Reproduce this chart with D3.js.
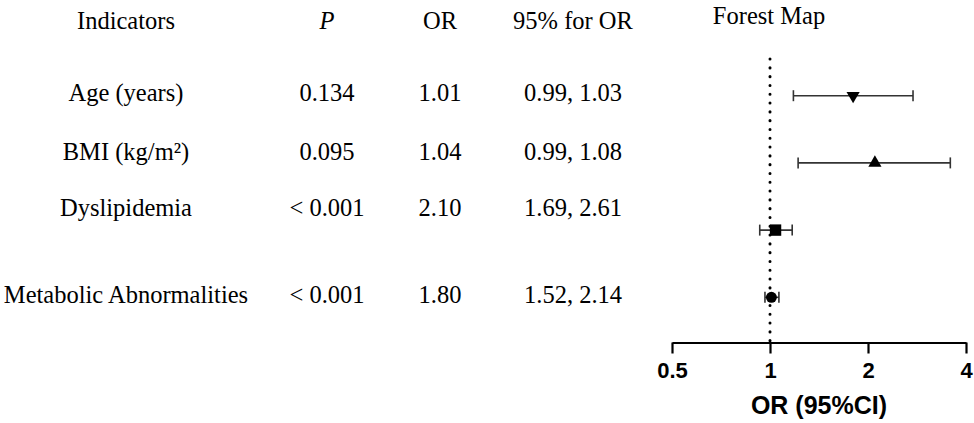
<!DOCTYPE html>
<html><head><meta charset="utf-8">
<script src="https://cdn.jsdelivr.net/npm/d3@7"></script>
<style>
html,body{margin:0;padding:0;background:#fff;}
svg{display:block;}
</style></head>
<body>
<svg id="chart" width="974" height="423"></svg>
<script>
// ---- data ----
const indicators = ["Age (years)", "BMI (kg/m²)", "Dyslipidemia", "Metabolic Abnormalities"];
const pValues = ["0.134", "0.095", "< 0.001", "< 0.001"];
const orText = ["1.01", "1.04", "2.10", "1.80"];
const ciText = ["0.99, 1.03", "0.99, 1.08", "1.69, 2.61", "1.52, 2.14"];
// values as drawn in the forest map
const plotOR = [1.80, 2.10, 1.04, 1.01];
const plotLow = [1.18, 1.22, 0.93, 0.965];
const plotHigh = [2.75, 3.58, 1.17, 1.065];
const markers = ["triangleDown", "triangleUp", "square", "circle"];
const xTicks = [0.5, 1, 2, 4];
const headers = ["Indicators", "P", "OR", "95% for OR"];

// ---- layout ----
const svg = d3.select("#chart");
const serif = "'Liberation Serif','Times New Roman',serif";
const sans = "'Liberation Sans',Arial,sans-serif";
const fs = 24.5;
const colX = [126, 327, 440, 573];
const textRowY = [92, 151, 207.5, 294];
const headerY = 20;

// table headers
svg.selectAll("text.hdr").data(headers).join("text")
  .attr("class", "hdr")
  .attr("x", (d, i) => colX[i]).attr("y", headerY)
  .attr("text-anchor", "middle").attr("dominant-baseline", "central")
  .attr("font-family", serif).attr("font-size", fs)
  .attr("font-style", (d, i) => i === 1 ? "italic" : "normal")
  .attr("fill", "#000").text(d => d);

// table body
const cols = [indicators, pValues, orText, ciText];
cols.forEach((col, ci) => {
  svg.selectAll("text.c" + ci).data(col).join("text")
    .attr("class", "c" + ci)
    .attr("x", colX[ci]).attr("y", (d, i) => textRowY[i])
    .attr("text-anchor", "middle").attr("dominant-baseline", "central")
    .attr("font-family", serif).attr("font-size", fs)
    .attr("fill", "#000").text(d => d);
});

// forest plot
const x = d3.scaleLog().base(2).domain([0.5, 4]).range([672, 966]);
const y = d3.scalePoint().domain(indicators).range([95.7, 297.3]);
const axisY = 342.5;

svg.append("text").attr("x", 769).attr("y", 15)
  .attr("text-anchor", "middle").attr("dominant-baseline", "central")
  .attr("font-family", serif).attr("font-size", fs).attr("fill", "#000")
  .text("Forest Map");

// reference line at OR = 1
svg.append("line")
  .attr("x1", x(1)).attr("x2", x(1)).attr("y1", 59).attr("y2", axisY)
  .attr("stroke", "#000").attr("stroke-width", 3)
  .attr("stroke-linecap", "round").attr("stroke-dasharray", "0.1,8.7");

// axis
const axis = d3.axisBottom(x).tickValues(xTicks).tickFormat(d => String(d)).tickSize(11).tickSizeOuter(0);
const ag = svg.append("g").attr("transform", `translate(0,${axisY})`).call(axis);
ag.select(".domain").attr("stroke", "#000").attr("stroke-width", 2.2);
ag.selectAll(".tick line").attr("stroke", "#000").attr("stroke-width", 2.2);
ag.selectAll(".tick text")
  .attr("font-family", sans).attr("font-weight", "bold").attr("font-size", 22)
  .attr("fill", "#000").attr("dy", 0).attr("y", 35.5);

svg.append("text").attr("x", 819).attr("y", 405)
  .attr("text-anchor", "middle").attr("dominant-baseline", "central")
  .attr("font-family", sans).attr("font-weight", "bold").attr("font-size", 25)
  .attr("fill", "#000").text("OR (95%CI)");

// whiskers
const rows = indicators.map((d, i) => ({name: d, or: plotOR[i], lo: plotLow[i], hi: plotHigh[i], m: markers[i]}));
const g = svg.append("g");
g.selectAll("line.ci").data(rows).join("line").attr("class", "ci")
  .attr("x1", d => x(d.lo)).attr("x2", d => x(d.hi))
  .attr("y1", d => y(d.name)).attr("y2", d => y(d.name))
  .attr("stroke", "#333").attr("stroke-width", 1.6);
["lo", "hi"].forEach(k => {
  g.selectAll("line.cap" + k).data(rows).join("line").attr("class", "cap" + k)
    .attr("x1", d => x(d[k])).attr("x2", d => x(d[k]))
    .attr("y1", d => y(d.name) - 5.5).attr("y2", d => y(d.name) + 5.5)
    .attr("stroke", "#333").attr("stroke-width", 1.6);
});

// markers
const symMap = {
  triangleDown: d3.symbolTriangle, triangleUp: d3.symbolTriangle,
  square: d3.symbolSquare, circle: d3.symbolCircle
};
const sizeMap = {triangleDown: 75, triangleUp: 75, square: 130, circle: 95};
g.selectAll("path.mk").data(rows).join("path").attr("class", "mk")
  .attr("d", d => d3.symbol().type(symMap[d.m]).size(sizeMap[d.m])())
  .attr("transform", d => `translate(${x(d.or)},${y(d.name)})` + (d.m === "triangleDown" ? " rotate(180)" : ""))
  .attr("fill", "#000");
</script>
</body></html>
